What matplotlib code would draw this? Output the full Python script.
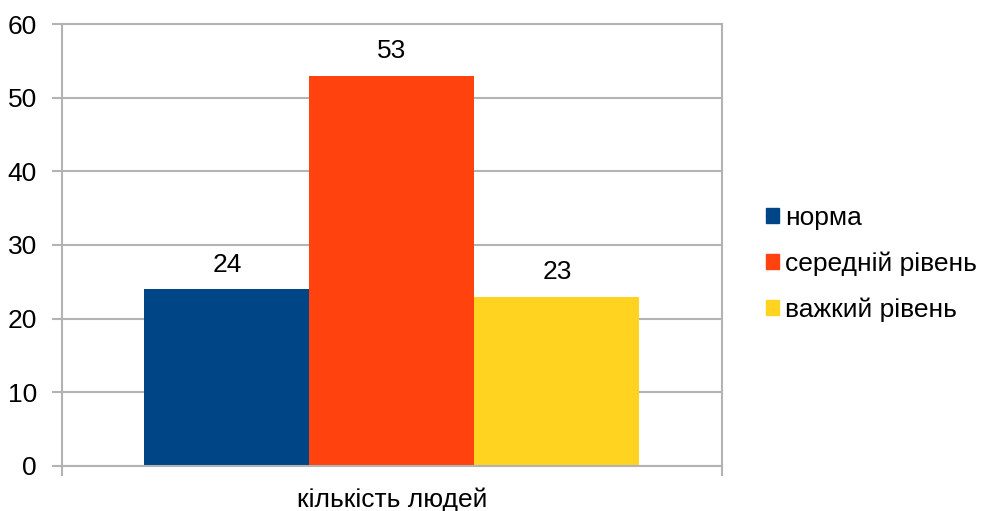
import numpy as np
import matplotlib
matplotlib.use("Agg")
from matplotlib import pyplot as plt
from matplotlib.patches import Patch

# data
category = "кількість людей"
labels = ["норма", "середній рівень", "важкий рівень"]
values = [24, 53, 23]
colors = ["#004586", "#ff420e", "#ffd320"]

plt.rcParams['font.family'] = ['Liberation Sans', 'DejaVu Sans']
plt.rcParams['font.size'] = 19

fig = plt.figure(figsize=(9.82, 5.11), dpi=100)
ax = fig.add_axes([0.0631, 0.0881, 0.6721, 0.8649])

grid_col = "#b3b3b3"
w = 0.25
offsets = (np.arange(len(values)) - 1) * w
for off, v, c, lab in zip(offsets, values, colors, labels):
    ax.bar(off, v, width=w, color=c, label=lab, zorder=2)
    ax.text(off, v + 2.4, str(v), ha="center", va="baseline", fontsize=19)

ax.set_xlim(-0.5, 0.5)
ax.set_ylim(0, 60)
ax.set_yticks(np.arange(0, 61, 10))
ax.yaxis.grid(True, color=grid_col, linewidth=1.5, zorder=0)
ax.set_xticks([-0.5, 0.5])
ax.set_xticklabels(["", ""])
ax.text(0, -0.093, category, transform=ax.get_xaxis_transform(),
        ha="center", va="baseline", fontsize=19)

for s in ax.spines.values():
    s.set_color(grid_col)
    s.set_linewidth(1.5)
ax.spines['bottom'].set_zorder(3)
ax.tick_params(axis="both", color=grid_col, width=1.5, length=7, direction="out")
ax.tick_params(axis="y", pad=11, labelsize=19)

handles = [Patch(color=c, label=l) for c, l in zip(colors, labels)]
fig.legend(handles=handles, loc="center left", bbox_to_anchor=(0.780, 0.483),
           frameon=False, fontsize=19, handlelength=0.5, handleheight=0.5,
           handletextpad=0.22, labelspacing=0.82, borderpad=0, borderaxespad=0)

fig.savefig("out.png", dpi=100)
